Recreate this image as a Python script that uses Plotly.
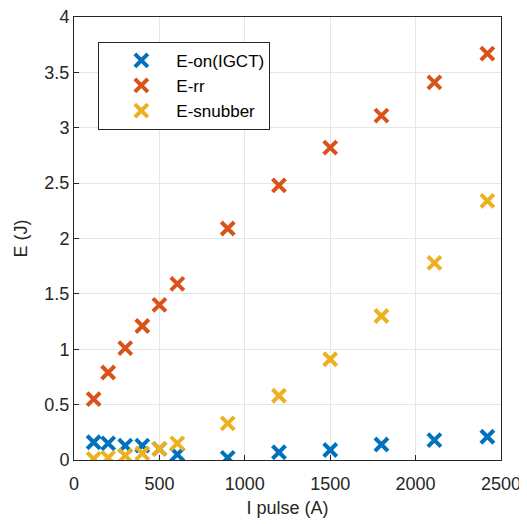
import plotly.graph_objects as go

i_pulse = [115, 200, 300, 400, 500, 605, 900, 1200, 1500, 1800, 2110, 2420]
e_on = [0.16, 0.15, 0.13, 0.13, 0.10, 0.05, 0.02, 0.07, 0.09, 0.14, 0.18, 0.21]
e_rr = [0.55, 0.79, 1.01, 1.21, 1.40, 1.59, 2.09, 2.48, 2.82, 3.11, 3.41, 3.67]
e_snub = [0.01, 0.02, 0.04, 0.06, 0.10, 0.15, 0.33, 0.58, 0.91, 1.30, 1.78, 2.34]

x_ticks = [0, 500, 1000, 1500, 2000, 2500]
y_ticks = [0, 0.5, 1, 1.5, 2, 2.5, 3, 3.5, 4]

series = [("E-on(IGCT)", e_on, "#0072BD"),
          ("E-rr", e_rr, "#D95319"),
          ("E-snubber", e_snub, "#EDB120")]

fig = go.Figure()
for name, vals, col in series:
    fig.add_trace(go.Scatter(
        x=i_pulse, y=vals, mode="markers", name=name,
        marker=dict(symbol="x-thin", size=13, line=dict(width=4, color=col), color=col),
    ))

font = dict(family="Arial, Liberation Sans, sans-serif", size=18, color="#262626")
axis_common = dict(showline=True, linecolor="#262626", linewidth=1, mirror=True,
                   ticks="inside", ticklen=5, tickcolor="#262626",
                   showgrid=True, gridcolor="#E6E6E6", gridwidth=1, zeroline=False,
                   tickfont=font, automargin=False, ticklabeloverflow="allow")
fig.update_xaxes(range=[0, 2500], tickvals=x_ticks, ticktext=[str(v) for v in x_ticks],
                 ticklabelstandoff=7,
                 title=dict(text="I pulse (A)", font=font, standoff=8), **axis_common)
fig.update_yaxes(range=[0, 4], tickvals=y_ticks, ticktext=[("%g" % v) for v in y_ticks],
                 title=dict(text="E (J)", font=font, standoff=12), **axis_common)

fig.update_layout(
    width=519, height=516,
    margin=dict(l=65.5, r=26, t=9, b=64, autoexpand=False),
    paper_bgcolor="white", plot_bgcolor="white",
    font=font,
    showlegend=True,
    legend=dict(x=0.057, y=0.944, xanchor="left", yanchor="top",
                bordercolor="#262626", borderwidth=1, bgcolor="white",
                font=dict(family="Arial, Liberation Sans, sans-serif", size=17, color="#000000"),
                itemwidth=60, indentation=7, tracegroupgap=0),
)

fig.write_html("out.html")
